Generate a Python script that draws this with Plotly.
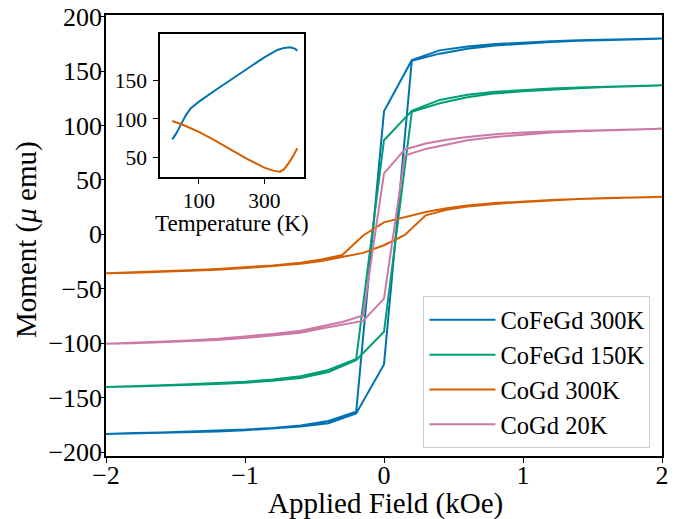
import plotly.graph_objects as go

# ---------------- data ----------------
# field grid (kOe) for the CoFeGd loops, descending branch order
H_fe_desc = [2.0, 1.8, 1.6, 1.4, 1.2, 1.0, 0.8, 0.6, 0.4, 0.2, 0.0,
             -0.2, -0.4, -0.6, -0.8, -1.0, -1.2, -1.4, -1.6, -1.8, -2.0]
H_fe_asc = H_fe_desc[::-1]

# field grid for the CoGd loops
H_co_desc = [2.0, 1.8, 1.6, 1.4, 1.2, 1.0, 0.8, 0.6, 0.45, 0.3, 0.15, 0.0,
             -0.15, -0.3, -0.45, -0.6, -0.8, -1.0, -1.2, -1.4, -1.6, -1.8, -2.0]
H_co_asc = H_co_desc[::-1]

cofegd300_desc = [179.8, 179.4, 178.9, 178.2, 177.4, 176.3, 174.8, 172.5, 169.0, 160.0, 113.0,
                  -163.0, -171.5, -175.5, -177.8, -179.3, -180.4, -181.3, -182.0, -182.5, -183.0]
cofegd300_asc = [-183.4, -183.0, -182.5, -181.8, -181.0, -180.0, -178.5, -176.5, -173.5, -164.5, -119.5,
                 159.5, 166.0, 170.5, 173.5, 175.3, 176.7, 177.8, 178.6, 179.2, 179.6]

cofegd150_desc = [137.0, 136.5, 135.8, 135.0, 134.0, 132.7, 131.0, 128.3, 123.5, 113.5, 86.5,
                  -114.5, -124.5, -130.3, -133.3, -135.3, -136.7, -137.8, -138.6, -139.3, -139.8]
cofegd150_asc = [-140.2, -139.8, -139.2, -138.5, -137.5, -136.2, -134.5, -132.0, -126.5, -115.5, -89.5,
                 112.5, 120.5, 126.0, 129.5, 131.5, 133.0, 134.3, 135.3, 136.2, 136.8]

cogd300_desc = [34.5, 34.0, 33.3, 32.5, 31.5, 30.3, 28.7, 26.5, 24.0, 20.5, 16.0, 11.0,
                -1.0, -19.0, -23.0, -26.0, -28.5, -30.3, -31.8, -33.0, -34.0, -34.8, -35.4]
cogd300_asc = [-35.7, -35.2, -34.5, -33.6, -32.5, -31.0, -29.3, -27.0, -24.5, -21.0, -17.0, -10.0,
               -0.5, 17.5, 22.5, 25.5, 28.0, 29.8, 31.2, 32.4, 33.3, 34.0, 34.4]

cogd20_desc = [97.0, 96.5, 96.0, 95.3, 94.5, 93.5, 92.0, 89.5, 87.0, 83.5, 78.0, 56.0,
               -74.5, -80.5, -84.5, -88.5, -91.5, -94.0, -96.0, -97.5, -98.5, -99.5, -100.3]
cogd20_asc = [-100.6, -100.0, -99.2, -98.3, -97.0, -95.3, -93.0, -90.3, -86.5, -83.0, -79.5, -59.0,
              72.5, 78.5, 82.5, 86.5, 89.5, 91.8, 93.5, 94.8, 95.7, 96.4, 97.0]

series_names = ["CoFeGd 300K", "CoFeGd 150K", "CoGd 300K", "CoGd 20K"]
series_colors = ["#0072B2", "#009E73", "#D55E00", "#CC79A7"]

# inset: moment vs temperature
T_blue = [18, 30, 45, 60, 75, 100, 150, 200, 250, 300, 340, 360, 380, 395, 401]
M_blue = [73.6, 81.0, 93.0, 105.0, 114.0, 122.5, 137.3, 151.6, 166.4, 180.1, 189.6, 192.3, 193.1, 191.0, 188.7]
T_orange = [18, 52, 98, 150, 200, 250, 300, 330, 348, 360, 370, 385, 401]
M_orange = [97.4, 92.2, 83.5, 72.0, 59.7, 47.5, 36.8, 32.6, 31.6, 34.5, 40.0, 49.5, 61.9]

x_ticks = [-2, -1, 0, 1, 2]
y_ticks = [-200, -150, -100, -50, 0, 50, 100, 150, 200]
inset_x_ticks = [100, 300]
inset_y_ticks = [50, 100, 150]

x_title = "Applied Field (kOe)"
y_title = "Moment (<i>μ</i> emu)"
inset_x_title = "Temperature (K)"

# ---------------- figure ----------------
FONT = "Liberation Serif"
fig = go.Figure()

loops = [
    (H_fe_desc, cofegd300_desc, H_fe_asc, cofegd300_asc),
    (H_fe_desc, cofegd150_desc, H_fe_asc, cofegd150_asc),
    (H_co_desc, cogd300_desc, H_co_asc, cogd300_asc),
    (H_co_desc, cogd20_desc, H_co_asc, cogd20_asc),
]
for (hd, md, ha, ma), name, col in zip(loops, series_names, series_colors):
    fig.add_trace(go.Scatter(x=hd + ha, y=md + ma, mode="lines", name=name,
                             line=dict(color=col, width=2), xaxis="x", yaxis="y"))

fig.add_trace(go.Scatter(x=T_blue, y=M_blue, mode="lines", showlegend=False,
                         line=dict(color=series_colors[0], width=2), xaxis="x2", yaxis="y2"))
fig.add_trace(go.Scatter(x=T_orange, y=M_orange, mode="lines", showlegend=False,
                         line=dict(color=series_colors[2], width=2), xaxis="x2", yaxis="y2"))

def ax(size, standoff=0):
    return dict(showgrid=False, zeroline=False, showline=True, linecolor="black",
                linewidth=1.5, mirror=True, ticks="outside", ticklen=5, tickwidth=1.2,
                tickcolor="black", automargin=False, ticklabelstandoff=standoff,
                tickfont=dict(family=FONT, size=size, color="black"))

fig.update_layout(
    width=677, height=519,
    margin=dict(l=106, r=15, t=15, b=63),
    paper_bgcolor="white", plot_bgcolor="white",
    font=dict(family=FONT, color="black"),
    xaxis=dict(domain=[0, 1], range=[-2, 2], tickvals=x_ticks, **ax(26, -10)),
    yaxis=dict(domain=[0, 1], range=[-203.6, 201.5], tickvals=y_ticks, **ax(26, -8)),
    xaxis2=dict(domain=[0.0971, 0.3561], anchor="y2", range=[-19.4, 421.5], tickvals=inset_x_ticks,
                **ax(21.5, -2)),
    yaxis2=dict(domain=[0.632, 0.957], anchor="x2", range=[24.3, 210.4], tickvals=inset_y_ticks,
                **ax(21.5, 2)),
    legend=dict(x=0.571, y=0.362, xanchor="left", yanchor="top",
                bgcolor="rgba(255,255,255,0.8)", bordercolor="#cccccc", borderwidth=1,
                itemwidth=66,
                font=dict(family=FONT, size=24.5, color="black"), tracegroupgap=0),
    showlegend=True,
    annotations=[
        dict(text=x_title, xref="paper", yref="paper", x=0.502, y=0, yshift=-47,
             xanchor="center", yanchor="middle", showarrow=False,
             font=dict(family=FONT, size=29, color="black")),
        dict(text=y_title, xref="paper", yref="paper", x=-0.142, y=0.49, textangle=-90,
             xanchor="center", yanchor="middle", showarrow=False,
             font=dict(family=FONT, size=29, color="black")),
        dict(text=inset_x_title, xref="paper", yref="paper", x=0.2266, y=0.5306, yshift=-1,
             xanchor="center", yanchor="middle", showarrow=False,
             font=dict(family=FONT, size=23, color="black")),
    ],
)

fig.write_html("out.html", config={"displayModeBar": False},
               post_script="document.body.style.margin='0';")
